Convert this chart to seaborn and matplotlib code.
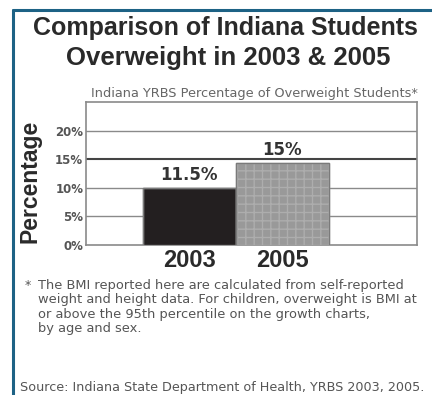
import matplotlib
matplotlib.use("Agg")
import matplotlib.pyplot as plt
from matplotlib.lines import Line2D
import seaborn as sns
import pandas as pd

# ---- data ----
years = ["2003", "2005"]
bar_heights = [10.0, 14.4]          # bar heights as drawn in the reference
bar_labels = ["11.5%", "15%"]        # printed value labels
ytick_values = [0, 5, 10, 15, 20]
ytick_labels = ["0%", "5%", "10%", "15%", "20%"]
title_lines = ["Comparison of Indiana Students", "Overweight in 2003 & 2005"]
subtitle = "Indiana YRBS Percentage of Overweight Students*"
footnote_lines = [
    "The BMI reported here are calculated from self-reported",
    "weight and height data. For children, overweight is BMI at",
    "or above the 95th percentile on the growth charts,",
    "by age and sex.",
]
source = "Source: Indiana State Department of Health, YRBS 2003, 2005."

df = pd.DataFrame({"year": years, "pct": bar_heights})

sns.set_style("white")
plt.rcParams["font.family"] = ["DejaVu Sans"]
plt.rcParams["hatch.linewidth"] = 1.0

W, H = 432, 395
fig = plt.figure(figsize=(W / 100, H / 100), dpi=100)
fig.patch.set_facecolor("white")

def fx(px):
    return px / W

def fy(py):
    return 1 - py / H

ax = fig.add_axes([fx(86), fy(245), fx(417) - fx(86), fy(102) - fy(245)])

sns.barplot(data=df, x="year", y="pct", hue="year",
            palette=["#231f20", "#999999"], width=1.0, legend=False,
            ax=ax, zorder=3, saturation=1)

for p, yr in zip(ax.patches, years):
    p.set_edgecolor("#7a7a7a")
    p.set_linewidth(1.0)
    if yr == "2005":
        p.set_hatch("++")
        p.set_edgecolor("#adadad")

# outline of bars in gray
for p in ax.patches:
    x0, w, h = p.get_x(), p.get_width(), p.get_height()
    ax.plot([x0, x0, x0 + w, x0 + w], [0, h, h, 0], color="#7a7a7a", lw=1.0, zorder=4)

ax.set_xlim(-1.11, 2.45)
ax.set_ylim(0, 25)
ax.set_yticks(ytick_values)
ax.set_yticklabels(ytick_labels, fontsize=8.5, fontweight="bold", color="#555555")
ax.tick_params(axis="y", length=0, pad=2)
ax.tick_params(axis="x", length=0, pad=3)
for lbl in ax.get_xticklabels():
    lbl.set_fontsize(17)
    lbl.set_fontweight("bold")
    lbl.set_color("#2a2a2a")
    lbl.set_family("Liberation Sans")
ax.set_xlabel("")
ax.set_ylabel("Percentage", fontsize=16.5, fontweight="bold", color="#2a2a2a",
              family="Liberation Sans")
ax.yaxis.set_label_coords((30 - 86) / (417 - 86), (245 - 181) / (245 - 102))
ax.yaxis.label.set_va("center")

for v in ytick_values[1:]:
    ax.axhline(v, color="#444444" if v == 15 else "#8a8a8a",
               lw=1.5 if v == 15 else 1.0, zorder=1)

for s in ax.spines.values():
    s.set_color("#8a8a8a")
    s.set_linewidth(1.2)
    s.set_visible(True)

for i, (h, lab) in enumerate(zip(bar_heights, bar_labels)):
    ax.annotate(lab, (i, h), xytext=(0, 2.5), textcoords="offset points",
                ha="center", va="bottom", fontsize=12, fontweight="bold",
                color="#333333", zorder=5)

# titles
fig.text(fx(225), fy(28), title_lines[0], ha="center", va="center",
         fontsize=18, fontweight="bold", family="Liberation Sans", color="#2a2a2a")
fig.text(fx(228), fy(57.5), title_lines[1], ha="center", va="center",
         fontsize=18.5, fontweight="bold", family="Liberation Sans", color="#2a2a2a")
fig.text(fx(418), fy(93), subtitle, ha="right", va="center",
         fontsize=9.3, color="#666666")

# footnotes
fig.text(fx(25), fy(285), "*", ha="left", va="center", fontsize=9, color="#555555")
for i, line in enumerate(footnote_lines):
    fig.text(fx(38), fy(285 + 14.6 * i), line, ha="left", va="center",
             fontsize=9.4, color="#555555")
fig.text(fx(20), fy(387), source, ha="left", va="center", fontsize=9.2, color="#555555")

# frame lines
border = "#1d6285"
fig.add_artist(Line2D([fx(13), 1.0], [fy(10), fy(10)], color=border, lw=2.2))
fig.add_artist(Line2D([fx(13), fx(13)], [fy(10), 0.0], color=border, lw=2.2))

fig.savefig("out.png", dpi=100)
